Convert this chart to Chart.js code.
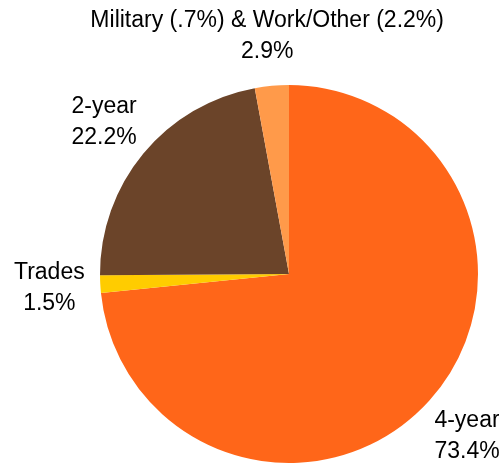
<!DOCTYPE html>
<html>
<head>
<meta charset="utf-8">
<script src="https://cdn.jsdelivr.net/npm/chart.js@4/dist/chart.umd.min.js"></script>
<style>
  html, body { margin: 0; padding: 0; background: #fff; }
  #wrap { width: 499px; height: 464px; position: relative; }
</style>
</head>
<body>
<div id="wrap"><canvas id="pie"></canvas></div>
<script>
const categories = ["4-year", "Trades", "2-year", "Military (.7%) & Work/Other (2.2%)"];
const shares = [73.4, 1.5, 22.2, 2.9];
const sliceColors = ["#ff6619", "#ffcc00", "#6b4429", "#ff9a4a"];

// labels outside each slice: name on one line, percent below
const outsideLabels = {
  id: "outsideLabels",
  afterDatasetsDraw(chart) {
    const ctx = chart.ctx;
    const meta = chart.getDatasetMeta(0);
    meta.data.forEach((arc, i) => {
      const mid = (arc.startAngle + arc.endAngle) / 2;
      const r = arc.outerRadius + 51;
      const x = arc.x + Math.cos(mid) * r;
      const y = arc.y + Math.sin(mid) * r + 1.5;
      ctx.save();
      ctx.fillStyle = "#000";
      ctx.font = '23px "Liberation Sans", Arial, sans-serif';
      ctx.textAlign = "center";
      ctx.textBaseline = "middle";
      ctx.fillText(categories[i], x, y - 15.5);
      ctx.fillText(shares[i].toFixed(1) + "%", x, y + 15.5);
      ctx.restore();
    });
  }
};

new Chart(document.getElementById("pie"), {
  type: "pie",
  data: {
    labels: categories,
    datasets: [{
      data: shares,
      backgroundColor: sliceColors,
      borderWidth: 0
    }]
  },
  options: {
    responsive: true,
    maintainAspectRatio: false,
    animation: false,
    layout: { padding: { left: 100, right: 21, top: 85, bottom: 1 } },
    plugins: {
      legend: { display: false },
      tooltip: { enabled: false }
    }
  },
  plugins: [outsideLabels]
});
</script>
</body>
</html>
